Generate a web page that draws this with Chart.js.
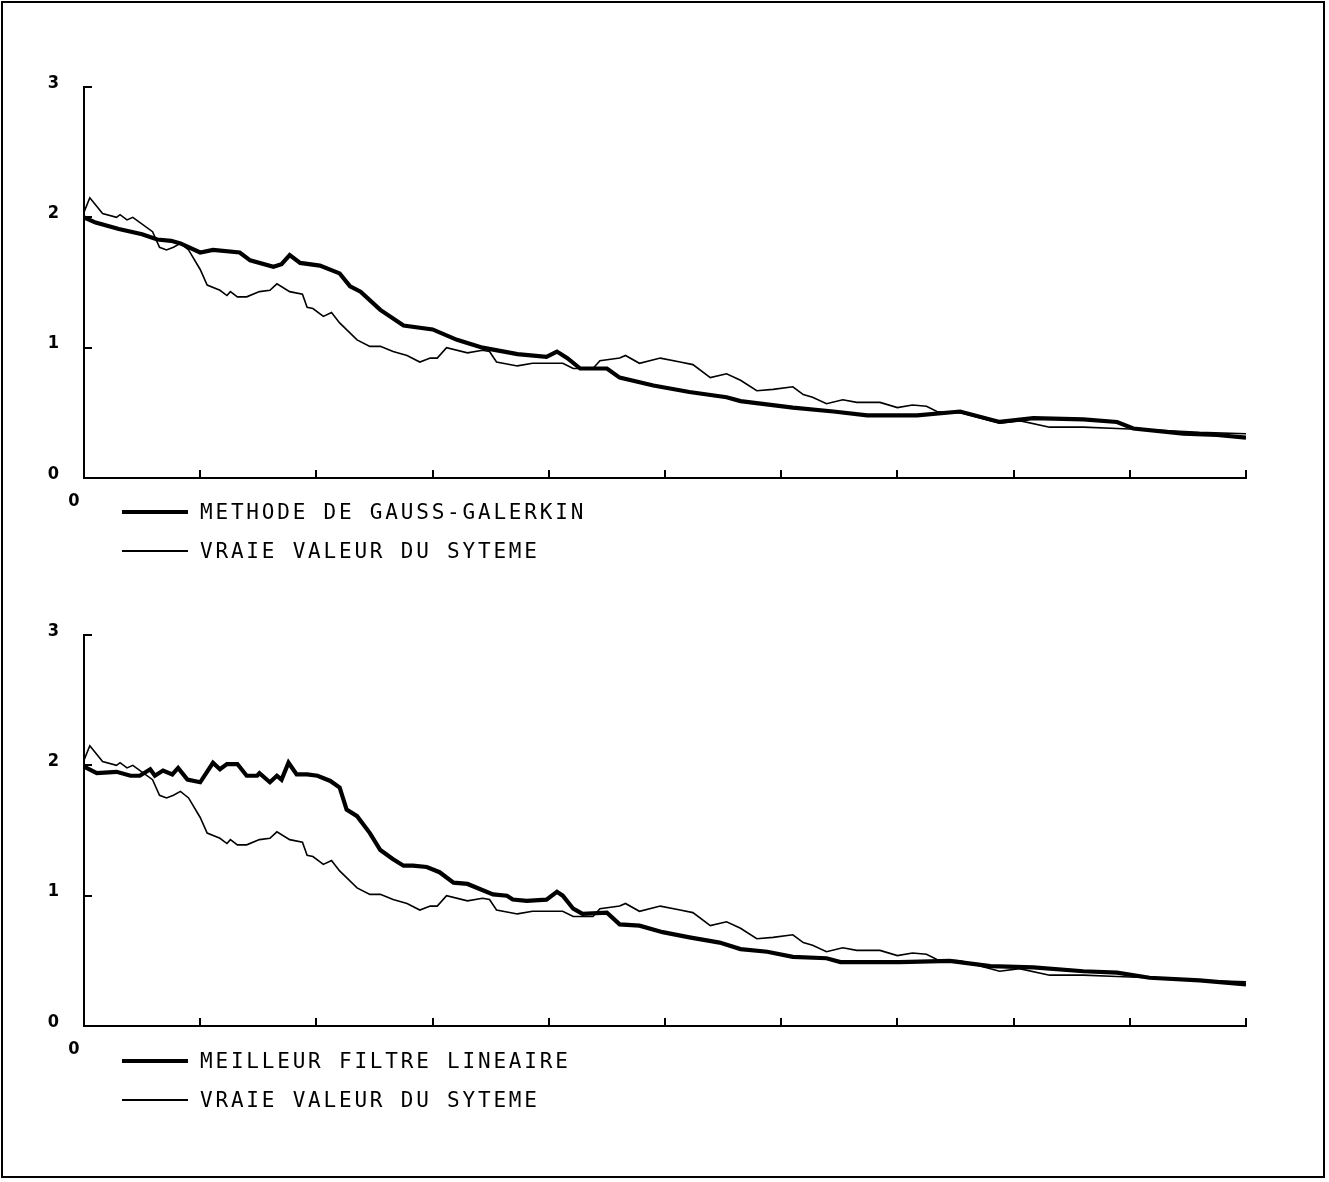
<!DOCTYPE html>
<html>
<head>
<meta charset="utf-8">
<script src="https://cdn.jsdelivr.net/npm/chart.js@4.4.0/dist/chart.umd.min.js"></script>
<style>
  html, body { margin: 0; padding: 0; background: #fff; }
  body { width: 1329px; height: 1182px; position: relative; overflow: hidden; }
  #frame { position: absolute; left: 1px; top: 1px; width: 1324px; height: 1177px; border: 2px solid #000; box-sizing: border-box; }
  .cv { position: absolute; left: 0; }
  .leg { position: absolute; left: 122px; height: 24px; display: flex; align-items: center; }
  .leg .sw { width: 66px; background: #000; margin-right: 12px; }
  .leg .tx { font-family: "DejaVu Sans Mono", monospace; font-size: 21px; letter-spacing: 2.8px; color: #000; line-height: 24px; }
</style>
</head>
<body>
<div id="frame"></div>
<canvas id="c1" class="cv" width="1329" height="520" style="top:0px"></canvas>
<canvas id="c2" class="cv" width="1329" height="520" style="top:548px"></canvas>
<div id="leg1"></div>
<div id="leg2"></div>
<script>
// ---- data ----
const xTickValues = [0, 1, 2, 3, 4, 5, 6, 7, 8, 9, 10];
const yTickLabels = ['0', '1', '2', '3'];

const topLabels = ['METHODE DE GAUSS-GALERKIN', 'VRAIE VALEUR DU SYTEME'];
const bottomLabels = ['MEILLEUR FILTRE LINEAIRE', 'VRAIE VALEUR DU SYTEME'];

// Gauss-Galerkin estimate (top, thick)
const ggX = [0, 0.1, 0.3, 0.5, 0.63, 0.75, 0.83, 1.0, 1.11, 1.34, 1.43, 1.63, 1.7, 1.77, 1.86, 2.03, 2.2, 2.29, 2.38, 2.55, 2.75, 3.0, 3.21, 3.43, 3.73, 3.98, 4.07, 4.16, 4.27, 4.5, 4.61, 4.9, 5.21, 5.53, 5.65, 6.1, 6.45, 6.74, 7.02, 7.17, 7.54, 7.88, 8.17, 8.6, 8.89, 9.03, 9.46, 9.75, 10.0];
const ggY = [2.00, 1.96, 1.91, 1.87, 1.83, 1.82, 1.80, 1.73, 1.75, 1.73, 1.67, 1.62, 1.64, 1.71, 1.65, 1.63, 1.57, 1.47, 1.43, 1.29, 1.17, 1.14, 1.06, 1.00, 0.95, 0.93, 0.97, 0.92, 0.84, 0.84, 0.77, 0.71, 0.66, 0.62, 0.59, 0.54, 0.51, 0.48, 0.48, 0.48, 0.51, 0.43, 0.46, 0.45, 0.43, 0.38, 0.34, 0.33, 0.31];

// True system value (both panels, thin)
const trueX = [0, 0.05, 0.16, 0.28, 0.31, 0.37, 0.42, 0.59, 0.65, 0.71, 0.77, 0.83, 0.9, 1.0, 1.06, 1.17, 1.23, 1.26, 1.32, 1.4, 1.51, 1.6, 1.66, 1.77, 1.88, 1.92, 1.97, 2.06, 2.13, 2.2, 2.35, 2.46, 2.55, 2.66, 2.78, 2.89, 2.98, 3.04, 3.12, 3.3, 3.43, 3.49, 3.55, 3.73, 3.86, 4.12, 4.21, 4.38, 4.44, 4.61, 4.66, 4.78, 4.96, 5.13, 5.24, 5.39, 5.53, 5.65, 5.79, 5.93, 6.1, 6.19, 6.27, 6.39, 6.53, 6.65, 6.85, 7.0, 7.13, 7.25, 7.34, 7.54, 7.88, 8.05, 8.31, 8.6, 8.89, 9.17, 9.6, 10.0];
const trueY = [2.04, 2.15, 2.03, 2.00, 2.02, 1.98, 2.00, 1.89, 1.77, 1.75, 1.77, 1.80, 1.75, 1.60, 1.48, 1.44, 1.40, 1.43, 1.39, 1.39, 1.43, 1.44, 1.49, 1.43, 1.41, 1.31, 1.30, 1.24, 1.27, 1.19, 1.06, 1.01, 1.01, 0.97, 0.94, 0.89, 0.92, 0.92, 1.00, 0.96, 0.98, 0.97, 0.89, 0.86, 0.88, 0.88, 0.84, 0.84, 0.90, 0.92, 0.94, 0.88, 0.92, 0.89, 0.87, 0.77, 0.80, 0.75, 0.67, 0.68, 0.70, 0.64, 0.62, 0.57, 0.60, 0.58, 0.58, 0.54, 0.56, 0.55, 0.51, 0.50, 0.42, 0.44, 0.39, 0.39, 0.38, 0.37, 0.35, 0.34];

// Best linear filter (bottom, thick)
const blfX = [0, 0.11, 0.28, 0.4, 0.48, 0.57, 0.61, 0.68, 0.76, 0.81, 0.89, 1.0, 1.11, 1.17, 1.23, 1.32, 1.4, 1.49, 1.51, 1.6, 1.66, 1.7, 1.76, 1.83, 1.92, 2.01, 2.12, 2.2, 2.26, 2.35, 2.46, 2.55, 2.66, 2.75, 2.83, 2.95, 3.06, 3.18, 3.3, 3.52, 3.64, 3.69, 3.81, 3.98, 4.07, 4.12, 4.21, 4.29, 4.5, 4.61, 4.78, 4.98, 5.21, 5.47, 5.65, 5.88, 6.1, 6.39, 6.51, 6.74, 7.02, 7.45, 7.8, 8.17, 8.6, 8.89, 9.17, 9.6, 10.0];
const blfY = [1.99, 1.94, 1.95, 1.92, 1.92, 1.97, 1.92, 1.96, 1.93, 1.98, 1.89, 1.87, 2.02, 1.97, 2.01, 2.01, 1.92, 1.92, 1.94, 1.87, 1.92, 1.89, 2.02, 1.93, 1.93, 1.92, 1.88, 1.83, 1.66, 1.61, 1.48, 1.35, 1.28, 1.23, 1.23, 1.22, 1.18, 1.10, 1.09, 1.01, 1.00, 0.97, 0.96, 0.97, 1.03, 1.00, 0.90, 0.86, 0.87, 0.78, 0.77, 0.72, 0.68, 0.64, 0.59, 0.57, 0.53, 0.52, 0.49, 0.49, 0.49, 0.50, 0.46, 0.45, 0.42, 0.41, 0.37, 0.35, 0.32];

// ---- helpers ----
function pts(xs, ys) { return xs.map((x, i) => ({ x: x, y: ys[i] })); }

const insideTicks = {
  id: 'insideTicks',
  afterDraw(chart) {
    const { ctx, chartArea } = chart;
    const xs = chart.scales.x, ys = chart.scales.y;
    ctx.save();
    ctx.strokeStyle = '#000';
    ctx.lineWidth = 2;
    ctx.beginPath();
    xTickValues.slice(1).forEach(v => {
      const px = Math.round(xs.getPixelForValue(v));
      ctx.moveTo(px, chartArea.bottom);
      ctx.lineTo(px, chartArea.bottom - 8);
    });
    [1, 2, 3].forEach(v => {
      const py = Math.round(ys.getPixelForValue(v));
      ctx.moveTo(chartArea.left, py);
      ctx.lineTo(chartArea.left + 8, py);
    });
    ctx.stroke();
    ctx.restore();
  }
};

const tickFont = { family: '"DejaVu Sans Condensed", "Liberation Sans", sans-serif', weight: 'bold', size: 18 };

function makeChart(id, thickX, thickY, labels) {
  return new Chart(document.getElementById(id), {
    type: 'line',
    data: {
      datasets: [
        { label: labels[0], data: pts(thickX, thickY), borderColor: '#000', borderWidth: 4.2, pointRadius: 0, tension: 0, fill: false },
        { label: labels[1], data: pts(trueX, trueY), borderColor: '#000', borderWidth: 1.6, pointRadius: 0, tension: 0, fill: false }
      ]
    },
    options: {
      responsive: false,
      animation: false,
      events: [],
      layout: { padding: { top: 87, right: 83, left: 0, bottom: 0 } },
      plugins: { legend: { display: false }, tooltip: { enabled: false } },
      scales: {
        x: {
          type: 'linear', min: 0, max: 10,
          afterFit(s) { s.height = 42; },
          afterBuildTicks(s) { s.ticks = xTickValues.map(v => ({ value: v })); },
          grid: { display: false },
          border: { display: true, color: '#000', width: 2 },
          ticks: {
            color: '#000', padding: 5, labelOffset: -10, maxRotation: 0, autoSkip: false,
            font: tickFont,
            callback: (v) => (v === 0 ? '0' : '')
          }
        },
        y: {
          type: 'linear', min: 0, max: 3,
          afterFit(s) { s.width = 84; },
          afterBuildTicks(s) { s.ticks = yTickLabels.map((t, i) => ({ value: i })); },
          grid: { display: false },
          border: { display: true, color: '#000', width: 2 },
          ticks: {
            color: '#000', padding: 17, labelOffset: -4, autoSkip: false,
            font: tickFont,
            callback: (v) => yTickLabels[v]
          }
        }
      }
    },
    plugins: [insideTicks]
  });
}

makeChart('c1', ggX, ggY, topLabels);
makeChart('c2', blfX, blfY, bottomLabels);

function makeLegend(id, labels, y1, y2) {
  const host = document.getElementById(id);
  [[labels[0], 4, y1], [labels[1], 2, y2]].forEach(([t, h, y]) => {
    const row = document.createElement('div');
    row.className = 'leg';
    row.style.top = (y - 12) + 'px';
    const sw = document.createElement('div');
    sw.className = 'sw';
    sw.style.height = h + 'px';
    const tx = document.createElement('span');
    tx.className = 'tx';
    tx.textContent = t;
    row.appendChild(sw);
    row.appendChild(tx);
    host.appendChild(row);
  });
}
makeLegend('leg1', topLabels, 512, 551);
makeLegend('leg2', bottomLabels, 1061, 1100);
</script>
</body>
</html>
